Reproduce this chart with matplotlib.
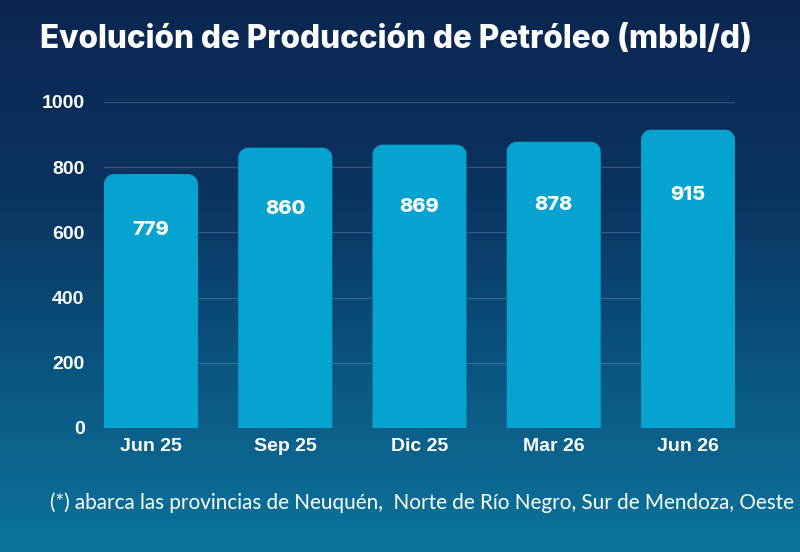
import numpy as np
import matplotlib
matplotlib.use('Agg')
import matplotlib.pyplot as plt
from matplotlib.path import Path
from matplotlib.patches import PathPatch
from matplotlib.colors import LinearSegmentedColormap

# data
periods = ["Jun 25", "Sep 25", "Dic 25", "Mar 26", "Jun 26"]
production = [779, 860, 869, 878, 915]
y_ticks = [0, 200, 400, 600, 800, 1000]

title = "Evolución de Producción de Petróleo (mbbl/d)"
footnote = "(*) abarca las provincias de Neuquén,  Norte de Río Negro, Sur de Mendoza, Oeste"

BAR_COLOR = "#04a3d0"
BAR_W = 0.70


def rounded_top_bar(x0, x1, top, rx, ry):
    """Bar path with only the two top corners rounded."""
    k = 0.5523
    verts = [
        (x0, 0), (x0, top - ry),
        (x0, top - ry + k * ry), (x0 + rx - k * rx, top), (x0 + rx, top),
        (x1 - rx, top),
        (x1 - rx + k * rx, top), (x1, top - ry + k * ry), (x1, top - ry),
        (x1, 0), (x0, 0),
    ]
    codes = [Path.MOVETO, Path.LINETO,
             Path.CURVE4, Path.CURVE4, Path.CURVE4,
             Path.LINETO,
             Path.CURVE4, Path.CURVE4, Path.CURVE4,
             Path.LINETO, Path.CLOSEPOLY]
    return Path(verts, codes)


fig = plt.figure(figsize=(8, 5.52), dpi=100)

# background gradient
bg = fig.add_axes([0, 0, 1, 1], zorder=-10)
cmap = LinearSegmentedColormap.from_list(
    "bg", [(0.0, "#0b2650"), (0.35, "#0a3360"), (0.7, "#0b5883"), (1.0, "#0b7499")])
grad = np.linspace(0, 1, 256).reshape(-1, 1)
bg.imshow(grad, aspect="auto", cmap=cmap, extent=[0, 1, 0, 1], origin="upper")
bg.axis("off")

# axes: x 104..735 px, y 102..428 px
ax = fig.add_axes([104 / 800, 1 - 428 / 552, 631 / 800, 326 / 552])
ax.set_facecolor("none")
ax.set_xlim(-0.35, len(periods) - 1 + 0.35)
ax.set_ylim(0, 1000)

x = np.arange(len(periods))
rx = 10 / (631 / (len(periods) - 1 + 0.7))
ry = 10 / 0.326
for xi, v in zip(x, production):
    p = rounded_top_bar(xi - BAR_W / 2, xi + BAR_W / 2, v, rx, ry)
    ax.add_patch(PathPatch(p, facecolor=BAR_COLOR, edgecolor="none", zorder=3))
    ax.text(xi, v * 0.78, str(v), ha="center", va="center", color="white",
            fontsize=14.5, fontweight="heavy", family="Inter", zorder=4)

ax.set_yticks(y_ticks)
ax.set_xticks(x)
ax.set_xticklabels(periods)
ax.grid(axis="y", color="#ffffff", alpha=0.18, linewidth=0.9, zorder=0)
ax.tick_params(length=0, colors="white", labelsize=14)
ax.tick_params(axis="y", pad=14)
ax.tick_params(axis="x", pad=7)
for lab in ax.get_xticklabels() + ax.get_yticklabels():
    lab.set_fontweight("bold")
    lab.set_family("Liberation Sans")
for s in ax.spines.values():
    s.set_visible(False)

fig.text(396 / 800, 1 - 40 / 552, title, ha="center", va="center", color="white",
         fontsize=22.7, fontweight="heavy", family="Inter")
fig.text(50 / 800, 1 - 503 / 552, footnote, ha="left", va="center", color="white",
         fontsize=14.9, family="Lato")

fig.savefig("out.png", dpi=100)
